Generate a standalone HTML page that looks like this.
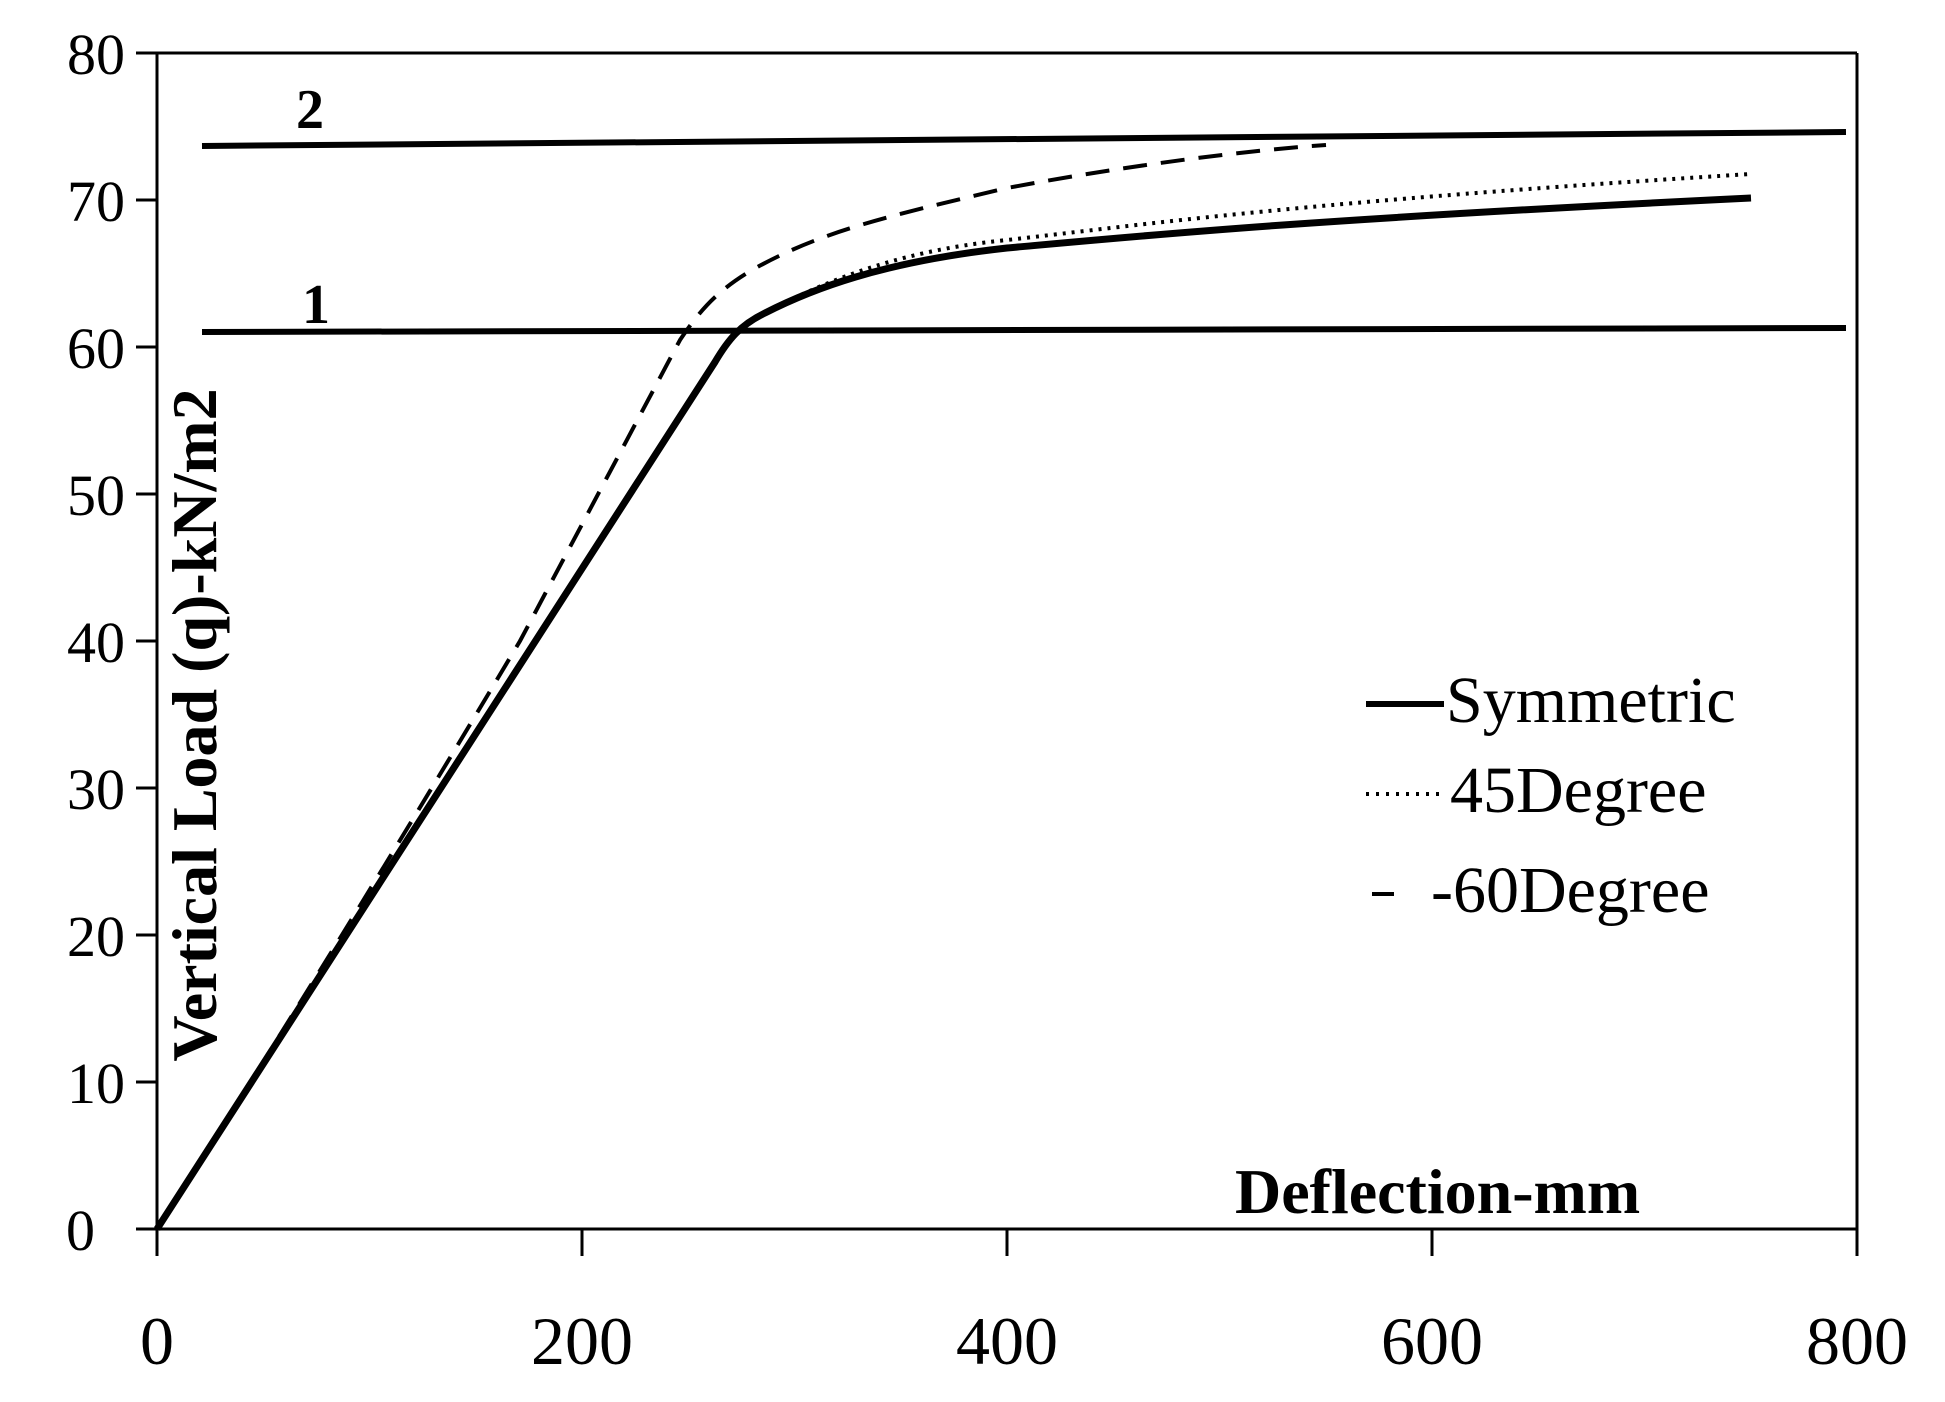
<!DOCTYPE html>
<html><head><style>body{margin:0;background:#fff}svg{display:block}</style></head>
<body>
<svg width="1945" height="1402" xmlns="http://www.w3.org/2000/svg" font-family="'Liberation Serif',serif">
<rect width="1945" height="1402" fill="#fff"/>
<g stroke="#000" stroke-width="3" fill="none">
<line x1="157" y1="53" x2="1857" y2="53"/>
<line x1="1857" y1="53" x2="1857" y2="1229"/>
<line x1="157" y1="53" x2="157" y2="1229"/>
<line x1="157" y1="1229" x2="1857" y2="1229"/>
<line x1="136" y1="53" x2="157" y2="53"/><line x1="136" y1="200" x2="157" y2="200"/>
<line x1="136" y1="347" x2="157" y2="347"/><line x1="136" y1="494" x2="157" y2="494"/>
<line x1="136" y1="641" x2="157" y2="641"/><line x1="136" y1="788" x2="157" y2="788"/>
<line x1="136" y1="935" x2="157" y2="935"/><line x1="136" y1="1082" x2="157" y2="1082"/>
<line x1="136" y1="1229" x2="157" y2="1229"/>
<line x1="157" y1="1229" x2="157" y2="1256"/><line x1="582" y1="1229" x2="582" y2="1256"/>
<line x1="1007" y1="1229" x2="1007" y2="1256"/><line x1="1432" y1="1229" x2="1432" y2="1256"/>
<line x1="1857" y1="1229" x2="1857" y2="1256"/>
</g>
<g font-size="58" text-anchor="end">
<text x="125" y="74">80</text><text x="125" y="221">70</text><text x="125" y="368">60</text>
<text x="125" y="515">50</text><text x="125" y="662">40</text><text x="125" y="809">30</text>
<text x="125" y="956">20</text><text x="125" y="1103">10</text><text x="95" y="1250">0</text>
</g>
<g font-size="68" text-anchor="middle">
<text x="157" y="1364">0</text><text x="582" y="1364">200</text><text x="1007" y="1364">400</text>
<text x="1432" y="1364">600</text><text x="1857" y="1364">800</text>
</g>
<g stroke="#000" stroke-width="6">
<line x1="202" y1="146" x2="1846" y2="132"/>
<line x1="202" y1="332" x2="1846" y2="328"/>
</g>
<text x="296" y="128" font-size="56" font-weight="bold">2</text>
<text x="302" y="323" font-size="56" font-weight="bold">1</text>
<path d="M157,1229 L715,362 C728,340 740,325 765,313 C810,290 880,262 1007,248 C1150,235 1300,220 1751,198" stroke="#000" stroke-width="7" fill="none"/>
<path d="M157,1229 L717,359 C730,338 742,324 767,311 C815,288 885,252 1007,240 C1150,224 1300,202 1751,174" stroke="#000" stroke-width="4" stroke-dasharray="3,6" fill="none"/>
<path d="M157,1229 Q330,960 520,641 L680,340 C700,310 718,290 752,270 C820,232 880,218 1007,188 C1130,165 1250,150 1326,145" stroke="#000" stroke-width="4" stroke-dasharray="24,14" fill="none"/>
<line x1="1366" y1="704" x2="1444" y2="704" stroke="#000" stroke-width="6"/>
<text x="1446" y="722" font-size="66">Symmetric</text>
<line x1="1366" y1="794" x2="1444" y2="794" stroke="#000" stroke-width="4" stroke-dasharray="3,7"/>
<text x="1450" y="812" font-size="66">45Degree</text>
<line x1="1372" y1="894" x2="1394" y2="894" stroke="#000" stroke-width="4"/>
<text x="1431" y="912" font-size="66">-60Degree</text>
<text x="1235" y="1213" font-size="64" font-weight="bold">Deflection-mm</text>
<text transform="translate(216,725) rotate(-90)" font-size="64" font-weight="bold" text-anchor="middle">Vertical Load (q)-kN/m2</text>
</svg>
</body></html>
